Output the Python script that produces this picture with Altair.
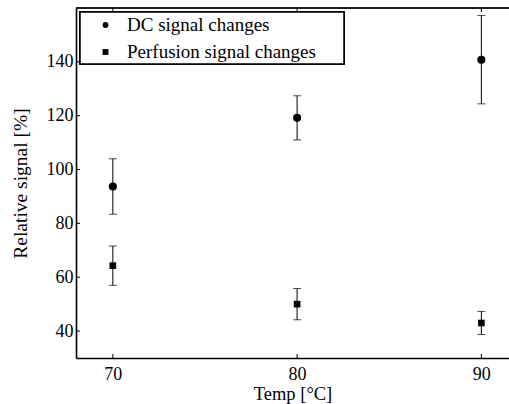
import altair as alt
import pandas as pd

# Relative signal vs. temperature, mean ± error for each series
temps = [70, 80, 90]
dc_signal = [93.7, 119.2, 140.8]
dc_error = [10.3, 8.2, 16.4]
perf_signal = [64.3, 50.0, 43.0]
perf_error = [7.3, 5.8, 4.3]
series_names = ["DC signal changes", "Perfusion signal changes"]
x_ticks = [70, 80, 90]
y_ticks = [40, 60, 80, 100, 120, 140]

rows = []
for name, vals, errs in [(series_names[0], dc_signal, dc_error),
                         (series_names[1], perf_signal, perf_error)]:
    for t, v, e in zip(temps, vals, errs):
        rows.append({"temp": t, "value": v, "lo": v - e, "hi": v + e, "series": name})
df = pd.DataFrame(rows)
xt = pd.DataFrame({"tick": x_ticks})
yt = pd.DataFrame({"tick": y_ticks})

FONT = "Liberation Serif"
W, H = 433, 350

xscale = alt.Scale(domain=[68, 91.5], nice=False, zero=False)
yscale = alt.Scale(domain=[30, 160], nice=False, zero=False)

x_enc = alt.X("temp:Q", scale=xscale, axis=alt.Axis(
    values=x_ticks, title="Temp [°C]", tickSize=0, labelPadding=7,
    titlePadding=1, grid=False, domainWidth=1.6, domainColor="black",
    labelFont=FONT, labelFontSize=18, titleFont=FONT, titleFontSize=18.5,
    titleFontWeight="normal", labelColor="black", titleColor="black"))
y_enc = alt.Y("lo:Q", scale=yscale, axis=alt.Axis(
    values=y_ticks, title="Relative signal [%]", tickSize=0, labelPadding=3,
    titlePadding=16, grid=False, domainWidth=1.6, domainColor="black",
    labelFont=FONT, labelFontSize=18, titleFont=FONT, titleFontSize=19.5,
    titleFontWeight="normal", labelColor="black", titleColor="black"))

base = alt.Chart(df)

# legend frame
frame = alt.Chart(xt).mark_rect(fill="white", stroke="black", strokeWidth=1.5).encode(
    x=alt.value(4), x2=alt.value(268), y=alt.value(4), y2=alt.value(56))

bars = base.mark_rule(color="black", strokeWidth=1).encode(
    x=x_enc, y=y_enc, y2="hi:Q")
cap_lo = base.mark_tick(color="black", thickness=1, size=8, orient="horizontal").encode(
    x="temp:Q", y="lo:Q")
cap_hi = base.mark_tick(color="black", thickness=1, size=8, orient="horizontal").encode(
    x="temp:Q", y="hi:Q")

shape = alt.Shape("series:N", scale=alt.Scale(domain=series_names, range=["circle", "square"]),
                  legend=alt.Legend(title=None, orient="none", legendX=20, legendY=7.5,
                                    labelFont=FONT, labelFontSize=19, labelColor="black",
                                    symbolSize=34, symbolFillColor="black", symbolStrokeWidth=0,
                                    symbolType="circle", labelOffset=12, rowPadding=7,
                                    padding=0, symbolOffset=0, labelLimit=400))

dots = base.transform_filter(alt.datum.series == series_names[0]).mark_point(
    filled=True, color="black", size=66, opacity=1).encode(
    x="temp:Q", y="value:Q", shape=shape)
squares = base.transform_filter(alt.datum.series == series_names[1]).mark_point(
    filled=True, color="black", size=44, opacity=1).encode(
    x="temp:Q", y="value:Q", shape=shape)

# inward ticks and top border
top_line = alt.Chart(xt).mark_rule(color="black", strokeWidth=1).encode(
    x=alt.value(0), x2=alt.value(W), y=alt.value(0))
top_ticks = alt.Chart(xt).mark_rule(color="black", strokeWidth=1).encode(
    x=alt.X("tick:Q"), y=alt.value(0), y2=alt.value(4))
bottom_ticks = alt.Chart(xt).mark_rule(color="black", strokeWidth=1).encode(
    x=alt.X("tick:Q"), y=alt.value(H - 4), y2=alt.value(H))
left_ticks = alt.Chart(yt).mark_rule(color="black", strokeWidth=1).encode(
    y=alt.Y("tick:Q"), x=alt.value(0), x2=alt.value(4))

chart = alt.layer(
    bars, cap_lo, cap_hi, top_line, top_ticks, bottom_ticks, left_ticks, frame, dots, squares
).properties(
    width=W, height=H,
    autosize=alt.AutoSizeParams(type="none"),
    padding={"left": 76, "top": 8, "right": 0, "bottom": 46},
    background="white",
).configure(
    font=FONT
).configure_view(stroke=None)

chart.save("out.html", embed_options={"renderer": "svg", "actions": False})
